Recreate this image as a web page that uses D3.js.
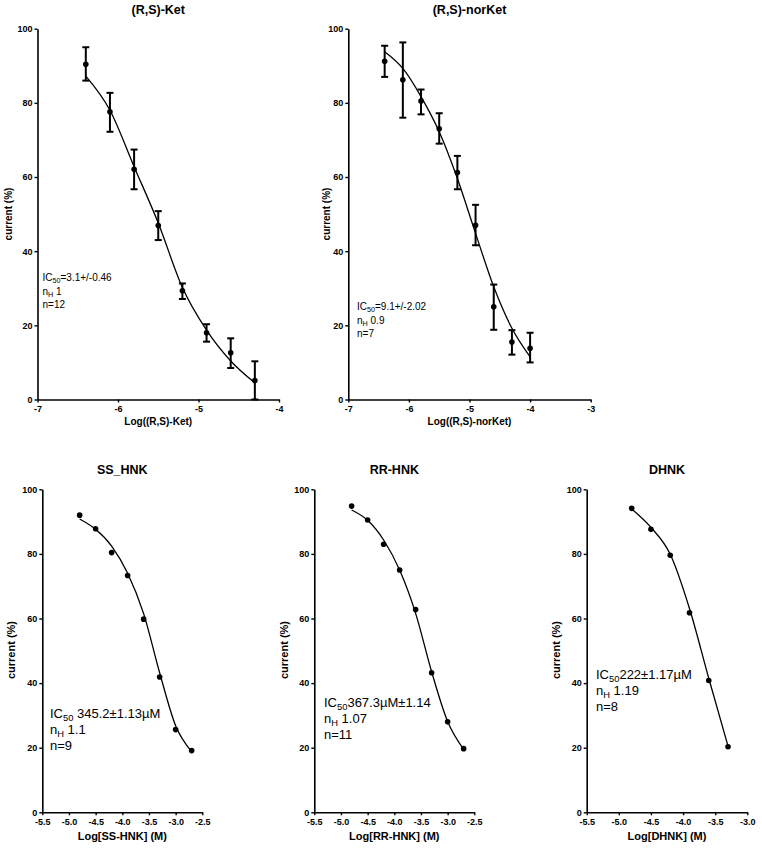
<!DOCTYPE html>
<html><head><meta charset="utf-8">
<script src="https://cdn.jsdelivr.net/npm/d3@7"></script>
<style>
body{margin:0;background:#fff}
svg{display:block}
text{font-family:Arial,"Liberation Sans",Helvetica,sans-serif;fill:#000}
</style>
</head><body>
<svg id="chart" width="762" height="850"></svg>
<script>
// ---------- DATA ----------
// (R,S)-Ket
const ketLogConc = [-6.4,-6.1,-5.8,-5.5,-5.2,-4.9,-4.6,-4.3];
const ketCurrent = [90.4,77.6,62.1,46.9,29.3,18.0,12.6,5.1];
const ketErrHigh = [95.0,82.7,67.4,50.8,31.3,20.3,16.5,10.3];
const ketErrLow  = [86.0,72.2,56.7,43.0,27.1,15.6,8.5,0.0];
const ketFit     = [87.2,78.0,62.8,47.6,30.2,18.7,10.4,4.5];
const ketNotes   = ["IC|50|=3.1+/-0.46", "n|H| 1", "n=12"];

// (R,S)-norKet
const norLogConc = [-6.4,-6.1,-5.8,-5.5,-5.2,-4.9,-4.6,-4.3,-4.0];
const norCurrent = [91.2,86.2,80.5,73.0,61.2,47.0,25.0,15.5,13.8];
const norErrHigh = [95.4,96.3,83.6,77.2,65.7,52.5,31.0,18.7,18.0];
const norErrLow  = [87.0,76.0,76.9,69.0,56.7,41.6,18.8,12.1,10.0];
const norFit     = [93.8,89.3,81.7,72.2,59.6,44.8,30.4,19.2,11.5];
const norNotes   = ["IC|50|=9.1+/-2.02", "n|H| 0.9", "n=7"];

// SS_HNK
const ssLogConc = [-4.8,-4.5,-4.2,-3.9,-3.6,-3.3,-3.0,-2.7];
const ssCurrent = [92.0,87.8,80.4,73.3,59.8,41.9,25.6,19.1];
const ssFit     = [90.8,87.6,82.4,74.0,61.5,43.2,26.8,18.8];
const ssNotes   = ["IC|50| 345.2\u00b11.13\u00b5M", "n|H| 1.1", "n=9"];

// RR-HNK
const rrLogConc = [-4.8,-4.5,-4.2,-3.9,-3.6,-3.3,-3.0,-2.7];
const rrCurrent = [94.8,90.5,83.0,75.0,62.8,43.2,28.0,19.7];
const rrFit     = [93.6,90.4,84.3,75.0,61.6,43.5,28.1,19.5];
const rrNotes   = ["IC|50|367.3\u00b5M\u00b11.14", "n|H| 1.07", "n=11"];

// DHNK
const dhLogConc = [-4.8,-4.5,-4.2,-3.9,-3.6,-3.3];
const dhCurrent = [94.1,87.6,79.6,61.8,40.8,20.3];
const dhFit     = [93.9,88.2,79.9,63.1,41.5,20.5];
const dhNotes   = ["IC|50|222\u00b11.17\u00b5M", "n|H| 1.19", "n=8"];

// axis ticks
const topXTicks = [-7,-6,-5,-4];
const norXTicks = [-7,-6,-5,-4,-3];
const hnkXTicks = [-5.5,-5.0,-4.5,-4.0,-3.5,-3.0,-2.5];
const dhXTicks  = [-5.5,-5.0,-4.5,-4.0,-3.5,-3.0];
const yTicks    = [0,20,40,60,80,100];

const titles  = ["(R,S)-Ket","(R,S)-norKet","SS_HNK","RR-HNK","DHNK"];
const xLabels = ["Log((R,S)-Ket)","Log((R,S)-norKet)","Log[SS-HNK] (M)","Log[RR-HNK] (M)","Log[DHNK] (M)"];
const yLabel  = "current (%)";

// ---------- LAYOUT ----------
const panels = [
  {x:ketLogConc,y:ketCurrent,hi:ketErrHigh,lo:ketErrLow,fit:ketFit,notes:ketNotes,xt:topXTicks,dom:[-7,-4],
   L:37.5,R:279,T:28.7,B:399.5,fmt:d=>String(d),title:titles[0],xl:xLabels[0],
   titleY:14,xlY:425,ylX:12,ylY:214,noteX:42.5,noteY:281,noteDy:13.5,noteFs:10,tickFs:9,labFs:10,top:true},
  {x:norLogConc,y:norCurrent,hi:norErrHigh,lo:norErrLow,fit:norFit,notes:norNotes,xt:norXTicks,dom:[-7,-3],
   L:348.3,R:590.7,T:28.7,B:399.5,fmt:d=>String(d),title:titles[1],xl:xLabels[1],
   titleY:14,xlY:425,ylX:330,ylY:214,noteX:357,noteY:310,noteDy:13.5,noteFs:10,tickFs:9,labFs:10,top:true},
  {x:ssLogConc,y:ssCurrent,fit:ssFit,notes:ssNotes,xt:hnkXTicks,dom:[-5.5,-2.5],
   L:42.3,R:202.3,T:489.3,B:812.3,fmt:d=>d.toFixed(1),title:titles[2],xl:xLabels[2],
   titleY:473.5,xlY:840,ylX:15,ylY:650,noteX:50,noteY:718,noteDy:16,noteFs:13,tickFs:9,labFs:11},
  {x:rrLogConc,y:rrCurrent,fit:rrFit,notes:rrNotes,xt:hnkXTicks,dom:[-5.5,-2.5],
   L:314.3,R:474.3,T:489.3,B:812.3,fmt:d=>d.toFixed(1),title:titles[3],xl:xLabels[3],
   titleY:473.5,xlY:840,ylX:288,ylY:650,noteX:324,noteY:707,noteDy:16,noteFs:13,tickFs:9,labFs:11},
  {x:dhLogConc,y:dhCurrent,fit:dhFit,notes:dhNotes,xt:dhXTicks,dom:[-5.5,-3.0],
   L:586.7,R:747.3,T:489.3,B:812.3,fmt:d=>d.toFixed(1),title:titles[4],xl:xLabels[4],
   titleY:473.5,xlY:840,ylX:560,ylY:650,noteX:596,noteY:679,noteDy:16,noteFs:13,tickFs:9,labFs:11}
];

const svg = d3.select("#chart");
svg.append("rect").attr("width",762).attr("height",850).attr("fill","#fff");

panels.forEach(p => {
  const g = svg.append("g");
  const xs = d3.scaleLinear().domain(p.dom).range([p.L,p.R]);
  const ys = d3.scaleLinear().domain([0,100]).range([p.B,p.T]);

  // axes
  const xAxis = d3.axisBottom(xs).tickValues(p.xt).tickFormat(p.fmt).tickSize(3).tickSizeOuter(0).tickPadding(2);
  const yAxis = d3.axisLeft(ys).tickValues(yTicks).tickFormat(d=>String(d)).tickSize(3).tickSizeOuter(0).tickPadding(2);
  const gx = g.append("g").attr("transform",`translate(0,${p.B})`).call(xAxis);
  const gy = g.append("g").attr("transform",`translate(${p.L},0)`).call(yAxis);
  [gx,gy].forEach(a=>{
    a.select(".domain").attr("stroke","#000").attr("stroke-width",1.6);
    a.selectAll(".tick line").attr("stroke","#000").attr("stroke-width",1.4);
    a.selectAll(".tick text").attr("font-size",p.tickFs).attr("font-weight","bold")
      .attr("font-family",'Arial,"Liberation Sans",sans-serif').attr("fill","#000");
  });
  gx.selectAll(".tick text").attr("dy","0.85em");

  // title
  g.append("text").attr("x",(p.L+p.R)/2 + (p.top?0:0)).attr("y",p.titleY)
    .attr("text-anchor","middle").attr("font-size",12.5).attr("font-weight","bold").text(p.title);
  // x label
  g.append("text").attr("x",(p.L+p.R)/2).attr("y",p.xlY)
    .attr("text-anchor","middle").attr("font-size",p.labFs).attr("font-weight","bold").text(p.xl);
  // y label
  g.append("text").attr("transform",`translate(${p.ylX},${p.ylY}) rotate(-90)`)
    .attr("text-anchor","middle").attr("font-size",p.labFs).attr("font-weight","bold").text(yLabel);

  // fit curve
  const line = d3.line().x(d=>xs(d[0])).y(d=>ys(d[1])).curve(d3.curveMonotoneX);
  g.append("path").datum(p.x.map((v,i)=>[v,p.fit[i]]))
    .attr("d",line).attr("fill","none").attr("stroke","#000").attr("stroke-width",1.3);

  // error bars
  if (p.hi) {
    const eb = g.append("g");
    p.x.forEach((v,i)=>{
      const cx = xs(v);
      eb.append("line").attr("x1",cx).attr("x2",cx).attr("y1",ys(p.lo[i])).attr("y2",ys(p.hi[i]))
        .attr("stroke","#000").attr("stroke-width",2);
      [p.lo[i],p.hi[i]].forEach(e=>{
        eb.append("line").attr("x1",cx-3.5).attr("x2",cx+3.5).attr("y1",ys(e)).attr("y2",ys(e))
          .attr("stroke","#000").attr("stroke-width",2);
      });
    });
  }
  // points
  g.append("g").selectAll("circle").data(p.x.map((v,i)=>[v,p.y[i]])).join("circle")
    .attr("cx",d=>xs(d[0])).attr("cy",d=>ys(d[1])).attr("r",2.8).attr("fill","#000");

  // notes with subscripts (segments separated by "|": normal|sub|normal)
  p.notes.forEach((s,k)=>{
    const parts = s.split("|");
    const t = g.append("text").attr("x",p.noteX).attr("y",p.noteY + k*p.noteDy)
      .attr("font-size",p.noteFs);
    parts.forEach((seg,j)=>{
      if (!seg) return;
      if (j===1) {
        t.append("tspan").attr("font-size",p.noteFs*0.72).attr("dy",p.noteFs*0.22).text(seg);
      } else if (j===2) {
        t.append("tspan").attr("dy",-p.noteFs*0.22).text(seg);
      } else {
        t.append("tspan").text(seg);
      }
    });
  });
});
</script>
</body></html>
